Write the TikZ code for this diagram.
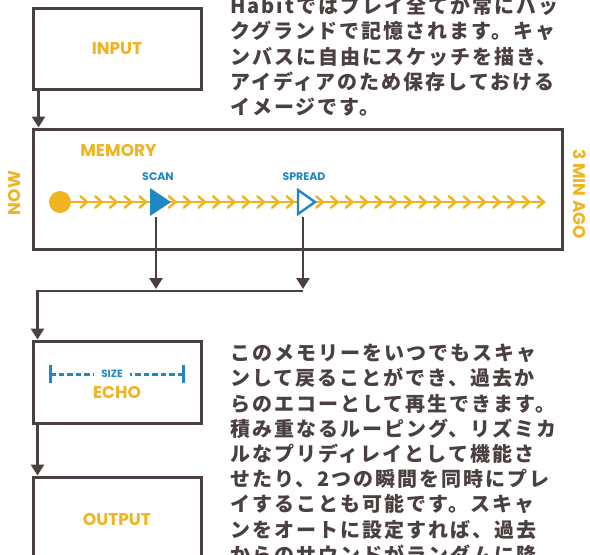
\documentclass[tikz,border=0pt]{standalone}
\usepackage{fontspec}
\setmainfont{Poppins}
\newfontfamily\jpfont{Noto Sans CJK JP}[LetterSpace=10]
\usetikzlibrary{arrows.meta}
\definecolor{ink}{RGB}{75,64,64}
\definecolor{gold}{RGB}{240,180,33}
\definecolor{skyb}{RGB}{31,135,195}
\begin{document}
\begin{tikzpicture}[x=1pt,y=-1pt,
  box/.style={draw=ink, line width=3pt, minimum width=168pt, inner sep=0pt},
  lbl/.style={text=gold, inner sep=0pt, font=\fontsize{17}{17}\selectfont\bfseries},
  tag/.style={text=skyb, inner sep=0pt, font=\fontsize{11}{11}\selectfont\bfseries},
  conn/.style={draw=ink, line width=2.6pt, -{Triangle[width=13pt,length=11pt]}},
  jp/.style={anchor=base west, text=ink, inner sep=0pt, font=\jpfont\bfseries\fontsize{20}{20}\selectfont},
  tl/.style={draw=gold, line width=2.6pt},
  chev/.style={draw=gold, line width=2.5pt, line cap=round, line join=miter},
  sizebar/.style={draw=skyb, line width=3pt}
]
\useasboundingbox (0,0) rectangle (590,555);
\clip (0,0) rectangle (590,555);

% boxes
\node[box, minimum height=81pt] (input) at (117,48.5) {};
\node[box, minimum width=529pt, minimum height=120pt] (memory) at (297.5,189) {};
\node[box, minimum height=82pt] (echo) at (117,382) {};
\node[box, minimum height=86pt] (output) at (117,520) {};

% labels
\node[lbl] (inputlbl) at (117,49) {INPUT};
\node[lbl] (memlbl) at (118.5,151) {MEMORY};
\node[lbl] (echolbl) at (117,393) {ECHO};
\node[lbl] (outlbl) at (117,520) {OUTPUT};
\node[lbl, rotate=90] (now) at (15,193) {NOW};
\node[lbl, rotate=-90] (ago) at (580,194) {3 MIN AGO};

% timeline
\node[circle, fill=gold, minimum size=22pt, inner sep=0pt] (nowdot) at (60,202) {};
\coordinate (tlend) at (544,202);
\draw[tl] (nowdot.east) -- (tlend);
\foreach \k in {0,...,31}{
  \ifnum\k=5\relax\else\ifnum\k=15\relax\else
    \pgfmathsetmacro{\cx}{87+14.74*\k}
    \draw[chev] (\cx-6.5,196.3) -- (\cx,202) -- (\cx-6.5,207.7);
  \fi\fi
}
% scan marker
\fill[skyb] (150,188) -- (171,202) -- (150,216) -- cycle;
\node[tag] (scanlbl) at (158,177) {SCAN};
\coordinate (scanb) at (156,217);
% spread marker
\draw[skyb, line width=2.4pt, fill=white, line join=miter] (298,190) -- (315,202) -- (298,214) -- cycle;
\node[tag] (spreadlbl) at (304,177) {SPREAD};
\coordinate (spreadb) at (303,217);

% connectors
\draw[conn] ([xshift=7pt]input.south west) -- ([xshift=7pt]memory.north west);
\coordinate (scanj) at (156,289);
\coordinate (spreadj) at (303,289);
\draw[conn] (scanb) -- (scanj);
\draw[conn] (spreadb) -- (spreadj);
\coordinate (joinr) at (303,291);
\draw[conn] (joinr) -| ([xshift=6pt]echo.north west);
\draw[conn] ([xshift=6pt]echo.south west) -- ([xshift=6pt]output.north west);

% size bar
\node[text=skyb, inner xsep=7pt, inner ysep=2pt, font=\fontsize{10.5}{10.5}\selectfont\bfseries] (size) at (112,374) {SIZE};
\coordinate (sizel) at (50,374);
\coordinate (sizer) at (183,374);
\draw[sizebar] (50,365) -- (50,383) (183,365) -- (183,383);
\draw[sizebar, dash pattern=on 5.5pt off 3pt] (sizel) -- (size.west);
\draw[sizebar, dash pattern=on 5.5pt off 3pt] (sizer) -- (size.east);

% japanese text, upper
\node[jp] (t1) at (230,13.6) {Habitではプレイ全てが常にバッ};
\node[jp] (t2) at (230,38.8) {クグランドで記憶されます。キャ};
\node[jp] (t3) at (230,64) {ンバスに自由にスケッチを描き、};
\node[jp] (t4) at (230,89.2) {アイディアのため保存しておける};
\node[jp] (t5) at (230,114.4) {イメージです。};

% japanese text, lower
\node[jp] (u1) at (230,360.6) {このメモリーをいつでもスキャ};
\node[jp] (u2) at (230,385.8) {ンして戻ることができ、過去か};
\node[jp] (u3) at (230,411) {らのエコーとして再生できます。};
\node[jp] (u4) at (230,436.2) {積み重なるルーピング、リズミカ};
\node[jp] (u5) at (230,461.4) {ルなプリディレイとして機能さ};
\node[jp] (u6) at (230,486.6) {せたり、2つの瞬間を同時にプレ};
\node[jp] (u7) at (230,511.8) {イすることも可能です。スキャ};
\node[jp] (u8) at (230,537) {ンをオートに設定すれば、過去};
\node[jp] (u9) at (230,562.2) {からのサウンドがランダムに降};
\end{tikzpicture}
\end{document}
